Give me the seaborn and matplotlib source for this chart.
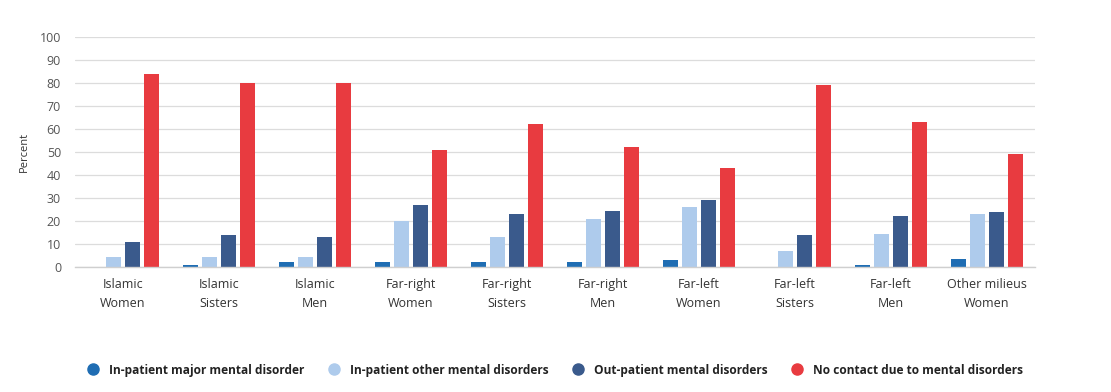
import pandas as pd
import numpy as np
import matplotlib
matplotlib.use('Agg')
import matplotlib.pyplot as plt
from matplotlib.lines import Line2D
import seaborn as sns

sns.set_theme(style='white')
plt.rcParams['font.family'] = ['Open Sans', 'DejaVu Sans']

categories = ['Islamic\nWomen', 'Islamic\nSisters', 'Islamic\nMen',
              'Far-right\nWomen', 'Far-right\nSisters', 'Far-right\nMen',
              'Far-left\nWomen', 'Far-left\nSisters', 'Far-left\nMen',
              'Other milieus\nWomen']
series = ['In-patient major mental disorder', 'In-patient other mental disorders',
          'Out-patient mental disorders', 'No contact due to mental disorders']
major = [0, 0.7, 2, 2, 2, 2, 3, 0, 0.7, 3.6]
other = [4.5, 4.5, 4.5, 20, 13, 21, 26, 7, 14.5, 23]
outpatient = [11, 14, 13, 27, 23, 24.5, 29, 14, 22, 24]
no_contact = [84, 80, 80, 51, 62, 52, 43, 79, 63, 49]
colors = ['#1f6db3', '#aecbec', '#3a5a8c', '#e83b40']

rows = []
for s, vals in zip(series, [major, other, outpatient, no_contact]):
    for c, v in zip(categories, vals):
        rows.append({'Category': c, 'Series': s, 'Percent': v})
df = pd.DataFrame(rows)

fig = plt.figure(figsize=(11.11, 3.92), dpi=100)
ax = fig.add_axes([0.0675, 0.319, 0.864, 0.587])
sns.barplot(data=df, x='Category', y='Percent', hue='Series', order=categories,
            hue_order=series, palette=colors, width=0.79, gap=0.21,
            saturation=1, linewidth=0, ax=ax, legend=False)

ax.set_ylim(0, 100)
ax.set_yticks(range(0, 101, 10))
ax.set_xlim(-0.5, len(categories) - 0.5)
ax.grid(axis='y', color='#dcdcdc', linewidth=0.9)
ax.set_axisbelow(True)
for side in ['top', 'right', 'left']:
    ax.spines[side].set_visible(False)
ax.spines['bottom'].set_color('#cfcfcf')
ax.spines['bottom'].set_linewidth(1)
ax.tick_params(axis='both', length=0)
ax.tick_params(axis='y', labelsize=9, labelcolor='#555555', pad=10)
ax.tick_params(axis='x', labelsize=9, labelcolor='#333333', pad=8)
for lab in ax.get_xticklabels():
    lab.set_linespacing(1.6)
ax.set_xlabel('')
ax.set_ylabel('Percent', fontsize=8, color='#333333', labelpad=7)

handles = [Line2D([0], [0], marker='o', linestyle='', markersize=8,
                  markerfacecolor=c, markeredgecolor=c) for c in colors]
fig.legend(handles, series, loc='center', bbox_to_anchor=(0.497, 0.056), ncol=4,
           frameon=False, handletextpad=0.3, columnspacing=1.5,
           prop={'weight': 'bold', 'size': 8.6})
for t in fig.legends[0].get_texts():
    t.set_color('#222222')

plt.savefig('out.png', dpi=100)
plt.close()
